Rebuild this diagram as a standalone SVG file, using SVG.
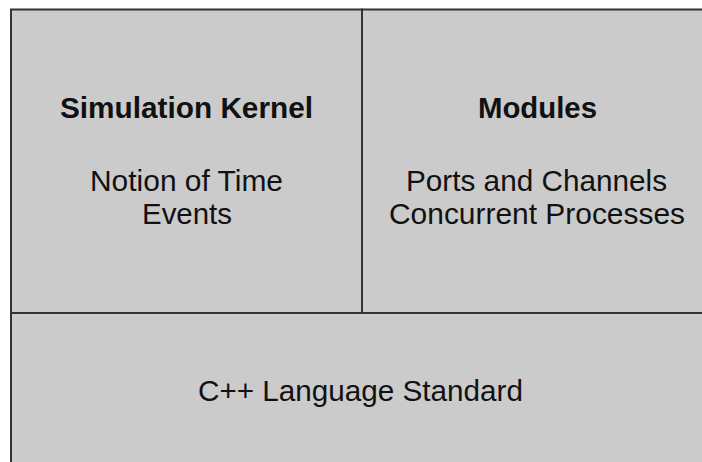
<svg xmlns="http://www.w3.org/2000/svg" width="702" height="462" viewBox="0 0 702 462">
<style>
.cell{fill:#cbcbcb;stroke:#333333;stroke-width:2}
.t{font-family:"Liberation Sans",Arial,sans-serif;font-size:30px;fill:#111111;text-anchor:middle}
.b{font-weight:bold}
</style>
<rect x="0" y="0" width="702" height="462" fill="#ffffff"/>
<g id="simulation-kernel">
<rect class="cell" x="11" y="9.5" width="351" height="303.5"/>
<text class="t b" x="186.5" y="118" textLength="253" lengthAdjust="spacingAndGlyphs">Simulation Kernel</text>
<text class="t" x="186.5" y="191" textLength="193" lengthAdjust="spacingAndGlyphs">Notion of Time</text>
<text class="t" x="187" y="224" textLength="90" lengthAdjust="spacingAndGlyphs">Events</text>
</g>
<g id="modules">
<rect class="cell" x="362" y="9.5" width="345" height="303.5"/>
<text class="t b" x="537.5" y="118" textLength="119" lengthAdjust="spacingAndGlyphs">Modules</text>
<text class="t" x="536.5" y="191" textLength="261" lengthAdjust="spacingAndGlyphs">Ports and Channels</text>
<text class="t" x="537" y="224" textLength="296" lengthAdjust="spacingAndGlyphs">Concurrent Processes</text>
</g>
<g id="cpp-language-standard">
<rect class="cell" x="11" y="313" width="696" height="155"/>
<text class="t" x="360.5" y="401" textLength="325" lengthAdjust="spacingAndGlyphs">C++ Language Standard</text>
</g>
<g id="connectors"></g>
</svg>
